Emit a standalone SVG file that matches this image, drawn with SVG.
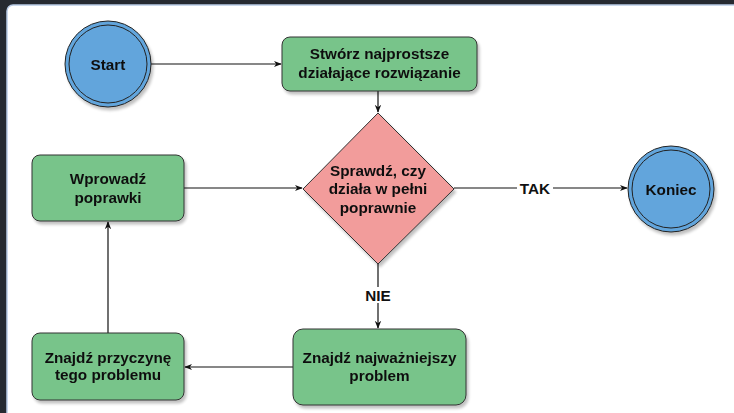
<svg xmlns="http://www.w3.org/2000/svg" width="734" height="413" viewBox="0 0 734 413">
<defs>
<style>
.t{font-family:"Liberation Sans",Arial,sans-serif;font-weight:bold;font-size:15.3px;fill:#111;text-anchor:middle}
.box{fill:#78c48a;stroke:#333;stroke-width:1}
.circ{fill:#62a5dc;stroke:#222;stroke-width:1}
.edge{fill:none;stroke:#111;stroke-width:1.2}
</style>
<filter id="sh" x="-20%" y="-20%" width="140%" height="140%">
<feGaussianBlur in="SourceAlpha" stdDeviation="1.5"/>
<feOffset dx="2" dy="3" result="o"/>
<feComponentTransfer><feFuncA type="linear" slope="0.25"/></feComponentTransfer>
<feMerge><feMergeNode/><feMergeNode in="SourceGraphic"/></feMerge>
</filter>
<marker id="arr" viewBox="0 0 10 10" refX="9" refY="5" markerWidth="8" markerHeight="8" orient="auto" markerUnits="userSpaceOnUse">
<path d="M0,1 L10,5 L0,9 L3,5 Z" fill="#111"/>
</marker>
</defs>
<rect x="0" y="0" width="734" height="413" fill="#262a31"/>
<rect x="7" y="5" width="740" height="420" rx="6" fill="#ffffff" stroke="#b9cbe6" stroke-width="1.5"/>

<g id="connectors">
<line class="edge" x1="151" y1="64" x2="281" y2="64" marker-end="url(#arr)"/>
<line class="edge" x1="378" y1="91" x2="378" y2="112" marker-end="url(#arr)"/>
<line class="edge" x1="184" y1="188" x2="302" y2="188" marker-end="url(#arr)"/>
<line class="edge" x1="454" y1="188" x2="627" y2="188" marker-end="url(#arr)"/>
<line class="edge" x1="378" y1="264" x2="378" y2="328" marker-end="url(#arr)"/>
<line class="edge" x1="293" y1="367" x2="185" y2="367" marker-end="url(#arr)"/>
<line class="edge" x1="108" y1="333" x2="108" y2="222" marker-end="url(#arr)"/>
<rect x="517" y="180" width="36" height="16" fill="#fff"/>
<text class="t" x="535" y="193.5">TAK</text>
<rect x="363" y="287" width="30" height="16" fill="#fff"/>
<text class="t" x="378" y="300.5">NIE</text>
</g>

<g id="start" filter="url(#sh)">
<circle class="circ" cx="108" cy="64" r="43"/>
<circle cx="108" cy="64" r="39" fill="none" stroke="#222" stroke-width="1"/>
<text class="t" x="108" y="69.5">Start</text>
</g>

<g id="create" filter="url(#sh)">
<rect class="box" x="282" y="37" width="195" height="54" rx="8"/>
<text class="t" x="379.5" y="58.5">Stwórz najprostsze</text>
<text class="t" x="379.5" y="77.5">działające rozwiązanie</text>
</g>

<g id="check" filter="url(#sh)">
<polygon points="378,113 454,189 378,264 303,189" fill="#f29c9b" stroke="#333" stroke-width="1"/>
<text class="t" x="378" y="175.5">Sprawdź, czy</text>
<text class="t" x="378" y="193.5">działa w pełni</text>
<text class="t" x="378" y="212.5">poprawnie</text>
</g>

<g id="end" filter="url(#sh)">
<circle class="circ" cx="671" cy="189" r="43"/>
<circle cx="671" cy="189" r="39" fill="none" stroke="#222" stroke-width="1"/>
<text class="t" x="671" y="194.5">Koniec</text>
</g>

<g id="fix" filter="url(#sh)">
<rect class="box" x="32" y="155" width="152" height="66" rx="8"/>
<text class="t" x="108" y="183.5">Wprowadź</text>
<text class="t" x="108" y="202.5">poprawki</text>
</g>

<g id="cause" filter="url(#sh)">
<rect class="box" x="32" y="333" width="152" height="67" rx="8"/>
<text class="t" x="108" y="362.5">Znajdź przyczynę</text>
<text class="t" x="108" y="379.5">tego problemu</text>
</g>

<g id="problem" filter="url(#sh)">
<rect class="box" x="293" y="329" width="173" height="76" rx="10"/>
<text class="t" x="379.5" y="362.5">Znajdź najważniejszy</text>
<text class="t" x="379.5" y="380.5">problem</text>
</g>
</svg>
